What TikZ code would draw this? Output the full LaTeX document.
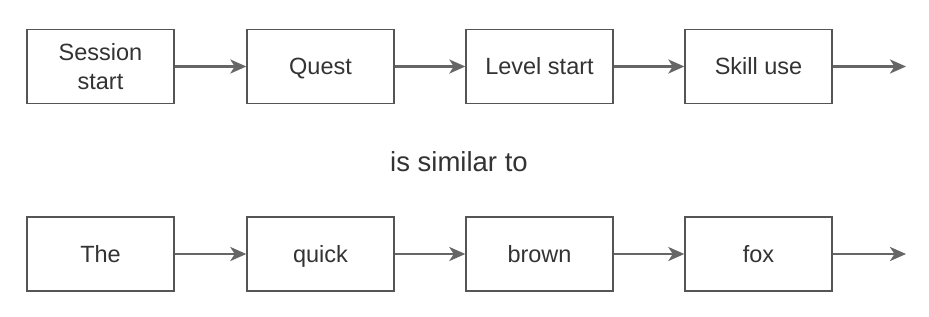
\documentclass[tikz,border=0pt]{standalone}
\usepackage{fontspec}
\setmainfont{Liberation Sans}
\usetikzlibrary{arrows.meta}
\definecolor{boxline}{HTML}{555555}
\definecolor{arrline}{HTML}{666666}
\definecolor{txt}{HTML}{333333}
\begin{document}
\begin{tikzpicture}[x=1pt,y=-1pt,
  stepbox/.style={draw=boxline,line width=1.4pt,minimum width=147pt,minimum height=74pt,
    inner sep=0pt,align=center,text=txt,font=\fontsize{23.5}{29.5}\selectfont},
  oneline/.style={text height=16.8pt,text depth=0pt},
  conn/.style={draw=arrline,line width=2.6pt,-{Stealth[length=16pt,width=14pt,inset=4.5pt]}}]
\useasboundingbox (0,0) rectangle (929,316);
\fill[white] (0,0) rectangle (929,316);
\node[stepbox] (a1) at (100.5,66.5) {Session\\start};
\node[stepbox,oneline] (a2) at (320.5,66.5) {Quest};
\node[stepbox,oneline] (a3) at (539.5,66.5) {Level start};
\node[stepbox,oneline] (a4) at (758.5,66.5) {Skill use};
\coordinate (a5) at (906,66.5);
\node[stepbox,oneline] (b1) at (100.5,254) {The};
\node[stepbox,oneline] (b2) at (320.5,254) {quick};
\node[stepbox,oneline] (b3) at (539.5,254) {brown};
\node[stepbox,oneline] (b4) at (758.5,254) {fox};
\coordinate (b5) at (906,254);
\node[text=txt,font=\fontsize{27.5}{33}\selectfont,text height=19.7pt,text depth=0pt,inner sep=0pt] (sim) at (459,162) {is similar to};
\draw[conn] (a1) -- (a2);
\draw[conn] (a2) -- (a3);
\draw[conn] (a3) -- (a4);
\draw[conn] (a4.east) -- (a5);
\draw[conn] (b1) -- (b2);
\draw[conn] (b2) -- (b3);
\draw[conn] (b3) -- (b4);
\draw[conn] (b4.east) -- (b5);
\end{tikzpicture}
\end{document}
